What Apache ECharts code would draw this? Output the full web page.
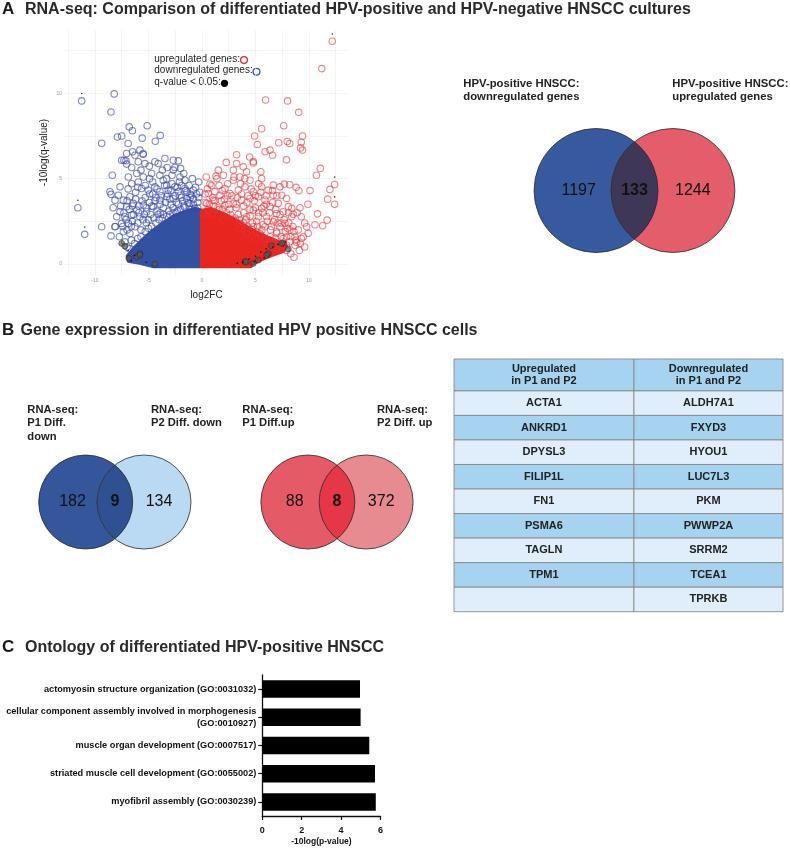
<!DOCTYPE html>
<html>
<head>
<meta charset="utf-8">
<title>RNA-seq of differentiated HPV-positive HNSCC</title>
<script src="https://cdn.jsdelivr.net/npm/echarts@6/dist/echarts.min.js"></script>
<style>
  html, body { margin: 0; padding: 0; background: #fff; }
  #chart { width: 790px; height: 848px; }
</style>
</head>
<body>
<div id="chart"></div>
<script>
// ---------- A: volcano plot (log2FC, -10log(q-value)) ----------
const downOutliers = [
  [-11.24, 9.55], [-8.2, 9.96], [-8.5, 8.9], [-6.8, 8.03], [-5.12, 8.1], [-6.5, 7.8], [-7.9, 7.44],
  [-7.5, 7.5], [-5.58, 7.37], [-3.9, 7.53], [-4.36, 7.19], [-9.37, 7.07], [-6.9, 7.06], [-5.8, 6.67],
  [-5.5, 6.45], [-6.48, 6.57], [-7.04, 6.47], [-6.26, 6.37], [-5.49, 6.43], [-7.5, 6.08], [-7.1, 6.04],
  [-3.46, 6.18], [-2.68, 6.08], [-2.21, 6.04], [-8.38, 5.2], [-8.6, 4.23], [-8.5, 4.08], [-11.6, 3.3],
  [-10.96, 1.74], [-9.37, 2.18], [-8.5, 1.65], [-8.3, 3.3], [-8.1, 2.2]
];
const downCloud = [
  [-7.29, 6.08], [-7.04, 5.85], [-6.57, 5.65], [-5.95, 5.99], [-5.33, 5.88], [-4.92, 5.73], [-4.4, 5.99],
  [-4.09, 5.88], [-3.25, 5.65], [-2.68, 5.5], [-2.53, 5.65], [-6.1, 5.3], [-5.48, 5.1], [-4.7, 5.3],
  [-3.93, 5.2], [-3.3, 5.0], [-2.06, 5.1], [-1.59, 4.91], [-6.88, 5.1], [-6.57, 4.7], [-5.95, 4.8],
  [-5.64, 4.42], [-5.02, 4.33], [-4.4, 4.52], [-3.93, 4.23], [-3.15, 4.33], [-2.53, 4.52], [-2.22, 4.23],
  [-1.59, 4.42], [-0.97, 4.03], [-0.82, 4.33], [-7.66, 4.52], [-7.82, 4.03], [-8.13, 3.74], [-7.35, 3.74],
  [-6.73, 3.94], [-7.04, 3.36], [-6.42, 3.55], [-6.1, 3.16], [-5.48, 3.45], [-5.17, 3.06], [-4.55, 3.36],
  [-7.66, 3.06], [-7.97, 2.77], [-7.2, 2.77], [-6.57, 2.87], [-5.8, 2.77], [-7.5, 2.38], [-6.88, 2.38],
  [-6.26, 2.18], [-7.35, 1.89], [-6.73, 1.79], [-8.13, 2.18], [-7.72, 1.6], [-7.2, 1.3], [-3.62, 4.91],
  [-3.3, 3.94], [-2.68, 3.84], [-2.06, 4.03], [-1.44, 3.84], [-3.93, 3.74], [-1.13, 3.55], [-0.66, 3.26],
  [-6.8, 0.9], [-6.3, 1.2], [-6.0, 1.5], [-5.7, 1.6], [-5.3, 1.9], [-5.0, 2.1], [-4.7, 2.2], [-4.3, 2.4],
  [-4.0, 2.6], [-3.7, 2.7], [-3.3, 2.8], [-3.0, 2.9], [-2.7, 3.0], [-2.3, 3.1], [-2.0, 3.2], [-1.6, 3.3],
  [-1.2, 3.4], [-0.8, 3.5], [-0.4, 3.6], [-6.5, 2.5], [-5.5, 2.6], [-4.8, 2.9], [-4.2, 3.1], [-3.6, 3.3],
  [-2.9, 3.5], [-2.4, 3.6], [-1.8, 3.7], [-0.3, 3.9], [-1.1, 3.9], [-5.9, 3.4], [-4.9, 3.6], [-4.3, 3.9],
  [-3.2, 4.1], [-2.9, 4.3], [-2.3, 4.5], [-1.9, 4.6], [-7.0, 1.0], [-6.6, 1.4], [-5.2, 2.4], [-3.9, 3.0],
  [-0.5, 4.1], [-1.4, 4.2], [-4.6, 4.1], [-5.3, 3.9], [-6.2, 4.2], [-6.9, 4.4], [-7.4, 2.2], [-7.0, 2.0],
  [-7.6, 3.4], [-7.3, 3.0], [-7.1, 2.6], [-6.8, 3.2], [-6.6, 2.2], [-6.4, 2.9], [-6.2, 3.8], [-6.0, 2.4],
  [-5.9, 3.0], [-5.7, 2.0], [-5.6, 3.7], [-5.4, 2.9], [-5.2, 3.3], [-5.0, 2.6], [-4.9, 4.1], [-4.7, 3.4],
  [-4.5, 2.7], [-4.4, 3.7], [-4.2, 4.4], [-4.1, 2.9], [-3.9, 3.5], [-3.8, 4.0], [-3.6, 2.9], [-3.5, 4.6],
  [-3.4, 3.6], [-3.1, 3.1], [-3.0, 3.8], [-2.8, 4.7], [-2.7, 3.3], [-2.5, 4.0], [-2.4, 3.0], [-2.2, 3.5],
  [-2.1, 4.8], [-1.9, 3.9], [-1.7, 3.4], [-1.5, 4.3], [-1.3, 3.6], [-1.2, 4.6], [-1.0, 3.2], [-0.8, 3.8],
  [-0.6, 4.5], [-0.4, 3.3], [-0.2, 4.2], [-0.3, 4.8], [-0.9, 5.0], [-1.7, 5.3], [-2.8, 5.2], [-3.7, 5.5],
  [-4.6, 4.8], [-5.3, 4.6], [-6.0, 4.5], [-6.5, 3.4], [-7.0, 3.7], [-5.7, 5.5], [-4.9, 5.0], [-3.3, 4.6],
  [-2.0, 5.6], [-1.1, 4.1]
];
const upOutliers = [
  [12.18, 13.04], [11.2, 11.44], [5.95, 9.6], [8.0, 9.55], [9.05, 8.88], [7.64, 8.1], [5.58, 7.92],
  [4.92, 7.5], [9.4, 7.5], [5.17, 7.0], [7.17, 7.1], [7.97, 7.17], [8.2, 7.06], [9.28, 7.13], [9.22, 6.8],
  [9.4, 6.67], [5.9, 6.57], [6.36, 6.67], [6.6, 6.37], [3.24, 6.4], [4.46, 6.27], [4.8, 6.0], [7.9, 6.1],
  [2.27, 5.95], [11.06, 5.6], [10.7, 5.2], [12.4, 4.66], [11.96, 4.37], [12.4, 3.5], [11.75, 3.8],
  [10.1, 4.3], [9.9, 3.5], [10.8, 2.94], [10.56, 2.3], [11.28, 2.24], [11.7, 2.57]
];
const upCloud = [
  [5.5, 5.4], [5.58, 5.0], [7.7, 4.68], [8.2, 4.64], [8.8, 4.49], [9.06, 4.29], [8.4, 3.26], [8.53, 2.92],
  [9.16, 3.3], [9.28, 2.77], [9.79, 2.18], [8.85, 1.27], [9.47, 1.6], [9.93, 1.8],
  [1.53, 5.5], [1.31, 5.15], [0.75, 4.68], [1.21, 4.23], [0.59, 4.13], [2.93, 5.5], [3.86, 5.69],
  [4.17, 5.4], [3.55, 5.1], [2.93, 4.91], [4.49, 4.91], [5.58, 4.52], [6.2, 4.33], [6.67, 4.62],
  [7.29, 4.52], [6.67, 4.03], [7.45, 4.03], [7.91, 3.84], [7.13, 3.55], [8.07, 3.36], [7.6, 3.06],
  [6.98, 2.96], [8.38, 2.77], [7.76, 2.38], [7.29, 2.18], [8.22, 1.99], [8.69, 1.6], [7.91, 1.6],
  [2.15, 4.42], [1.68, 4.03], [2.62, 4.13], [3.4, 4.33], [4.02, 4.52], [4.8, 4.23], [5.27, 3.94],
  [4.49, 3.84], [3.71, 3.74], [2.93, 3.55], [2.15, 3.45], [5.89, 3.74], [6.36, 3.36], [5.58, 3.26],
  [4.8, 3.16], [6.04, 2.77], [5.27, 2.77], [6.67, 2.47], [5.89, 2.18], [6.98, 1.89], [6.36, 1.6],
  [7.6, 1.21], [4.17, 2.77], [3.55, 2.38], [4.8, 2.18], [5.42, 1.79], [3.24, 5.88], [4.8, 5.92],
  [0.44, 3.55], [1.06, 3.74], [0.12, 2.96],
  [0.3, 3.6], [0.7, 3.5], [1.1, 3.4], [1.5, 3.3], [1.9, 3.2], [2.3, 3.0], [2.7, 2.9], [3.1, 2.7],
  [3.5, 2.6], [3.9, 2.4], [4.3, 2.2], [4.7, 2.0], [5.1, 1.9], [5.5, 1.7], [5.9, 1.5], [6.3, 1.4],
  [6.7, 1.2], [7.1, 1.1], [7.5, 0.9], [7.9, 0.8], [8.3, 0.6], [8.6, 0.4], [1.0, 3.9], [1.8, 3.7],
  [2.5, 3.5], [3.2, 3.3], [3.9, 3.0], [4.5, 2.8], [5.1, 2.5], [5.7, 2.3], [6.4, 2.0], [7.0, 1.8],
  [7.6, 1.5], [8.2, 1.3], [8.7, 1.1], [9.1, 0.8], [0.5, 4.4], [1.6, 4.6], [2.4, 4.0], [3.3, 3.9],
  [4.2, 3.6], [5.0, 3.3], [5.7, 3.0], [6.8, 2.6], [7.4, 2.4], [8.0, 2.1], [8.6, 1.9], [9.2, 1.2],
  [9.6, 1.0], [3.6, 4.7], [4.6, 4.4], [5.3, 4.7], [6.0, 4.0], [6.6, 3.6],
  [0.3, 4.1], [0.6, 3.2], [0.9, 4.6], [1.2, 3.7], [1.4, 5.0], [1.6, 3.2], [1.9, 4.3], [2.1, 3.8],
  [2.4, 4.7], [2.6, 3.2], [2.8, 4.0], [3.0, 5.1], [3.2, 3.5], [3.4, 2.9], [3.7, 4.1], [3.9, 3.4],
  [4.1, 2.6], [4.3, 4.0], [4.5, 3.2], [4.7, 2.4], [4.9, 3.7], [5.2, 2.2], [5.3, 3.0], [5.5, 4.2],
  [5.6, 2.0], [5.8, 3.4], [6.1, 2.5], [6.3, 3.0], [6.5, 2.2], [6.6, 4.3], [6.9, 3.2], [7.1, 2.4],
  [7.3, 2.9], [7.4, 1.6], [7.7, 2.6], [7.8, 1.9], [8.1, 2.4], [8.3, 1.6], [8.5, 2.2], [8.8, 1.4],
  [9.0, 2.0], [9.3, 1.5], [9.6, 2.4], [8.9, 3.0], [8.1, 3.0], [7.0, 4.0], [6.0, 3.5], [5.0, 4.0],
  [4.0, 5.0], [2.0, 5.2], [0.4, 5.1], [1.0, 2.9], [2.0, 2.6], [3.5, 2.1], [6.2, 1.1], [6.9, 1.5],
  [7.9, 1.1], [5.0, 1.5], [4.2, 1.8]
];
// q-value < 0.05 (grey filled)
const sigGenes = [
  [-7.5, 1.21], [-6.82, 0.33], [-6.1, 0.43], [-5.8, 0.62], [-7.2, 1.05], [-4.4, 0.0], [-5.8, 0.53],
  [8.07, 0.88], [7.6, 1.21], [6.2, 0.62], [4.8, 0.04], [4.02, 0.14], [5.27, 0.23], [6.5, 1.07],
  [7.45, 1.21], [6.05, 0.53], [4.14, 0.13]
];
const sigDots = [
  [-6.6, 0.2], [-6.3, 0.5], [-5.2, 0.1], [-6.9, 0.8], [3.3, 0.05], [3.8, 0.1], [4.4, 0.3], [5.0, 0.45],
  [5.5, 0.7], [6.0, 0.9], [6.6, 1.0], [7.1, 1.15], [7.8, 1.3], [4.9, 0.15], [5.8, 0.35]
];
// small marks above the labelled genes
const labelledGenes = [[-11.24, 9.98], [-11.6, 3.73], [-10.96, 2.17], [12.4, 5.09], [12.4, 3.93], [12.18, 13.47]];
// outline of the solid (over-plotted) region near the origin
const downCore = [
  [-0.05, -0.1], [-0.05, 3.1], [-0.6, 3.2], [-1.5, 3.05], [-2.5, 2.8], [-3.5, 2.4], [-4.5, 1.95],
  [-5.5, 1.4], [-6.3, 0.9], [-6.9, 0.45], [-6.8, 0.2], [-5.8, 0.1], [-4.5, -0.1]
];
const upCore = [
  [0.05, -0.1], [0.05, 3.1], [0.8, 3.2], [2, 2.9], [3, 2.6], [4, 2.2], [5, 1.85], [6, 1.55], [7, 1.3],
  [7.8, 1.05], [7.6, 0.8], [6.5, 0.55], [5.5, 0.3], [4.7, 0.05], [4.5, -0.1]
];
const volcanoXLabels = [-10, -5, 0, 5, 10];
const volcanoYLabels = [0, 5, 10];
const volcanoXGrid = [-12.5, -10, -7.5, -5, -2.5, 0, 2.5, 5, 7.5, 10, 12.5];
const volcanoYGrid = [0, 2.5, 5, 7.5, 10, 12.5];

// ---------- A: Venn ----------
const vennACounts = [1197, 133, 1244];
const vennALabels = ['HPV-positive HNSCC:\ndownregulated genes', 'HPV-positive HNSCC:\nupregulated genes'];

// ---------- B: Venns + table ----------
const vennDownCounts = [182, 9, 134];
const vennDownLabels = ['RNA-seq:\nP1 Diff.\ndown', 'RNA-seq:\nP2 Diff. down'];
const vennUpCounts = [88, 8, 372];
const vennUpLabels = ['RNA-seq:\nP1 Diff.up', 'RNA-seq:\nP2 Diff. up'];

const tableHeaders = ['Upregulated\nin P1 and P2', 'Downregulated\nin P1 and P2'];
const upGenes = ['ACTA1', 'ANKRD1', 'DPYSL3', 'FILIP1L', 'FN1', 'PSMA6', 'TAGLN', 'TPM1', ''];
const downGenes = ['ALDH7A1', 'FXYD3', 'HYOU1', 'LUC7L3', 'PKM', 'PWWP2A', 'SRRM2', 'TCEA1', 'TPRKB'];

// ---------- C: GO terms ----------
const goTerms = [
  'actomyosin structure organization (GO:0031032)',
  'cellular component assembly involved in morphogenesis\n(GO:0010927)',
  'muscle organ development (GO:0007517)',
  'striated muscle cell development (GO:0055002)',
  'myofibril assembly (GO:0030239)'
];
const goScores = [4.96, 4.99, 5.43, 5.72, 5.76];

const FONT = '"Liberation Sans", Arial, Helvetica, sans-serif';

// venn drawn in a grid whose x runs -2..2 and y -1..1 (one unit = circle radius)
function vennRender (colors) {
  return function (params, api) {
    const half = 0.62;
    const c1 = api.coord([-half, 0]);
    const c2 = api.coord([half, 0]);
    const r = api.size([1, 0])[0];
    const cy = c1[1];
    const mx = (c1[0] + c2[0]) / 2;
    const h = Math.sqrt(r * r - Math.pow((c2[0] - c1[0]) / 2, 2));
    const lens = 'M' + mx + ' ' + (cy - h) + ' A' + r + ' ' + r + ' 0 0 1 ' + mx + ' ' + (cy + h) +
      ' A' + r + ' ' + r + ' 0 0 1 ' + mx + ' ' + (cy - h) + ' Z';
    const lx = api.coord([-0.9, 0])[0];
    const rx = api.coord([0.94, 0])[0];
    const num = (x, v, bold) => ({
      type: 'text', x: x, y: cy,
      style: { text: String(v), fill: '#111', font: (bold ? 'bold ' : '') + '16px ' + FONT, align: 'center', verticalAlign: 'middle' }
    });
    const ring = (c) => ({ type: 'circle', shape: { cx: c[0], cy: cy, r: r }, style: { fill: 'none', stroke: '#2b2b2b', lineWidth: 0.8 } });
    return {
      type: 'group',
      children: [
        { type: 'circle', shape: { cx: c1[0], cy: cy, r: r }, style: { fill: colors[0] } },
        { type: 'circle', shape: { cx: c2[0], cy: cy, r: r }, style: { fill: colors[1] } },
        { type: 'path', shape: { pathData: lens }, style: { fill: colors[2] } },
        ring(c1), ring(c2),
        num(lx, api.value(0), false),
        num(mx, api.value(1), true),
        num(rx, api.value(2), false)
      ]
    };
  };
}

function polygonRender (points, fill) {
  return function (params, api) {
    return {
      type: 'polygon',
      shape: { points: points.map(p => api.coord(p)) },
      style: { fill: fill, stroke: fill, lineWidth: 5, lineJoin: 'round' }
    };
  };
}

// table cells: [column, row (-1 = header), text]
const tableCells = [];
tableHeaders.forEach((t, c) => tableCells.push([c, -1, t]));
upGenes.forEach((g, i) => tableCells.push([0, i, g]));
downGenes.forEach((g, i) => tableCells.push([1, i, g]));
const HEADER_H = 1.3;
const tableColEdges = [[0, 0.547], [0.547, 1]];

const hidden = { show: false };
const chart = echarts.init(document.getElementById('chart'));

const textLines = (x, y, text, size, lh, weight) => ({
  type: 'text', left: x, top: y,
  style: { text: text, font: (weight || 'bold') + ' ' + size + 'px ' + FONT, fill: '#222', lineHeight: lh }
});

chart.setOption({
  backgroundColor: '#fff',
  animation: false,
  grid: [
    { left: 65, top: 30, width: 283, height: 245 },        // 0 volcano
    { left: 510.5, top: 128.5, width: 248, height: 124 },  // 1 venn A
    { left: 20.85, top: 455, width: 188, height: 94 },     // 2 venn down
    { left: 243, top: 455, width: 188, height: 94 },       // 3 venn up
    { left: 454, top: 359, width: 329, height: 252.7 },    // 4 table
    { left: 262.3, top: 675, width: 118.2, height: 141 }   // 5 GO bars
  ],
  xAxis: [
    {
      gridIndex: 0, type: 'value', min: -12.8, max: 13.65,
      name: 'log2FC', nameLocation: 'middle', nameGap: 15,
      nameTextStyle: { fontFamily: FONT, fontSize: 10, color: '#222' },
      axisLine: { show: false },
      axisTick: { show: false, customValues: volcanoXGrid },
      axisLabel: { customValues: volcanoXLabels, fontSize: 5, color: '#999', margin: 3, fontFamily: FONT },
      splitLine: { lineStyle: { color: '#ececec', width: 0.6 } }
    },
    Object.assign({ gridIndex: 1, type: 'value', min: -2, max: 2 }, hidden),
    Object.assign({ gridIndex: 2, type: 'value', min: -2, max: 2 }, hidden),
    Object.assign({ gridIndex: 3, type: 'value', min: -2, max: 2 }, hidden),
    Object.assign({ gridIndex: 4, type: 'value', min: 0, max: 1 }, hidden),
    {
      gridIndex: 5, type: 'value', min: 0, max: 6, interval: 2,
      name: '-10log(p-value)', nameLocation: 'middle', nameGap: 21,
      nameTextStyle: { fontFamily: FONT, fontSize: 8.5, fontWeight: 'bold', color: '#111' },
      axisLine: { show: true, lineStyle: { color: '#111', width: 1.3 } },
      axisTick: { show: true, length: 4, lineStyle: { color: '#111', width: 1.2 } },
      axisLabel: { fontFamily: FONT, fontSize: 9, fontWeight: 'bold', color: '#111', margin: 10 },
      splitLine: { show: false }
    }
  ],
  yAxis: [
    {
      gridIndex: 0, type: 'value', min: -0.64, max: 13.7,
      name: '-10log(q-value)', nameLocation: 'middle', nameGap: 16, nameRotate: 90,
      nameTextStyle: { fontFamily: FONT, fontSize: 10, color: '#222' },
      axisLine: { show: false },
      axisTick: { show: false, customValues: volcanoYGrid },
      axisLabel: { customValues: volcanoYLabels, fontSize: 5, color: '#999', margin: 3, fontFamily: FONT },
      splitLine: { lineStyle: { color: '#ececec', width: 0.6 } }
    },
    Object.assign({ gridIndex: 1, type: 'value', min: -1, max: 1 }, hidden),
    Object.assign({ gridIndex: 2, type: 'value', min: -1, max: 1 }, hidden),
    Object.assign({ gridIndex: 3, type: 'value', min: -1, max: 1 }, hidden),
    Object.assign({ gridIndex: 4, type: 'value', min: 0, max: HEADER_H + upGenes.length, inverse: true }, hidden),
    {
      gridIndex: 5, type: 'category', data: goTerms, inverse: true,
      axisLine: { show: true, lineStyle: { color: '#111', width: 1.3 } },
      axisTick: { show: true, length: 4, alignWithLabel: true, lineStyle: { color: '#111', width: 1.2 } },
      axisLabel: { fontFamily: FONT, fontSize: 9.2, fontWeight: 'bold', color: '#111', margin: 6, lineHeight: 11.5, align: 'right' }
    }
  ],
  series: [
    // volcano
    { type: 'custom', xAxisIndex: 0, yAxisIndex: 0, data: [[0, 0]], z: 1, silent: true, renderItem: polygonRender(downCore, '#3251a1') },
    { type: 'custom', xAxisIndex: 0, yAxisIndex: 0, data: [[0, 0]], z: 1, silent: true, renderItem: polygonRender(upCore, '#e8261f') },
    {
      type: 'scatter', xAxisIndex: 0, yAxisIndex: 0, z: 2, silent: true,
      data: downCloud.concat(downOutliers), symbolSize: 6.5,
      itemStyle: { color: 'rgba(255,255,255,0)', borderColor: 'rgba(55,70,170,0.8)', borderWidth: 1.1 }
    },
    {
      type: 'scatter', xAxisIndex: 0, yAxisIndex: 0, z: 2, silent: true,
      data: upCloud.concat(upOutliers), symbolSize: 6.5,
      itemStyle: { color: 'rgba(255,255,255,0)', borderColor: 'rgba(230,50,55,0.75)', borderWidth: 1.1 }
    },
    {
      type: 'scatter', xAxisIndex: 0, yAxisIndex: 0, z: 3, silent: true,
      data: sigGenes, symbolSize: 6,
      itemStyle: { color: 'rgba(85,85,85,0.8)', borderColor: 'rgba(40,40,40,0.8)', borderWidth: 0.8 }
    },
    {
      type: 'scatter', xAxisIndex: 0, yAxisIndex: 0, z: 3, silent: true,
      data: sigDots.concat(labelledGenes), symbolSize: 1.6,
      itemStyle: { color: '#000' }
    },
    // venns
    { type: 'custom', xAxisIndex: 1, yAxisIndex: 1, silent: true, data: [vennACounts], renderItem: vennRender(['#375a9e', '#e35d6a', '#3f3758']) },
    { type: 'custom', xAxisIndex: 2, yAxisIndex: 2, silent: true, data: [vennDownCounts], renderItem: vennRender(['#34569b', '#b9daf2', '#2f5192']) },
    { type: 'custom', xAxisIndex: 3, yAxisIndex: 3, silent: true, data: [vennUpCounts], renderItem: vennRender(['#e45a67', '#e88b90', '#e63748']) },
    // table
    {
      type: 'custom', xAxisIndex: 4, yAxisIndex: 4, silent: true,
      data: tableCells.map(c => [c[0], c[1]]),
      renderItem: function (params, api) {
        const cell = tableCells[params.dataIndex];
        const col = cell[0];
        const row = cell[1];
        const xs = tableColEdges[col];
        const y0 = row < 0 ? 0 : HEADER_H + row;
        const y1 = row < 0 ? HEADER_H : HEADER_H + row + 1;
        const p0 = api.coord([xs[0], y0]);
        const p1 = api.coord([xs[1], y1]);
        const fill = (row < 0 || row % 2 === 1) ? '#a6d3ef' : '#dfeefa';
        return {
          type: 'group',
          children: [
            { type: 'rect', shape: { x: p0[0], y: p0[1], width: p1[0] - p0[0], height: p1[1] - p0[1] }, style: { fill: fill, stroke: '#8a8a8a', lineWidth: 0.9 } },
            {
              type: 'text', x: (p0[0] + p1[0]) / 2, y: (p0[1] + p1[1]) / 2,
              style: { text: cell[2], fill: '#222', font: 'bold 11px ' + FONT, align: 'center', verticalAlign: 'middle', lineHeight: 12.4 }
            }
          ]
        };
      }
    },
    // GO bars
    {
      type: 'bar', xAxisIndex: 5, yAxisIndex: 5, data: goScores, barWidth: 17.5, silent: true,
      itemStyle: { color: '#000' }
    }
  ],
  graphic: [
    { type: 'text', left: 2, top: 1, style: { text: 'A', font: 'bold 17px ' + FONT, fill: '#1a1a1a' } },
    { type: 'text', left: 25, top: 1.5, style: { text: 'RNA-seq: Comparison of differentiated HPV-positive and HPV-negative HNSCC cultures', font: 'bold 16px ' + FONT, fill: '#2a2a2a' } },
    { type: 'text', left: 2, top: 322, style: { text: 'B', font: 'bold 17px ' + FONT, fill: '#1a1a1a' } },
    { type: 'text', left: 20.5, top: 322.5, style: { text: 'Gene expression in differentiated HPV positive HNSCC cells', font: 'bold 16px ' + FONT, fill: '#2a2a2a' } },
    { type: 'text', left: 2, top: 639, style: { text: 'C', font: 'bold 17px ' + FONT, fill: '#1a1a1a' } },
    { type: 'text', left: 25, top: 639.5, style: { text: 'Ontology of differentiated HPV-positive HNSCC', font: 'bold 16px ' + FONT, fill: '#2a2a2a' } },

    // volcano legend
    { type: 'text', left: 154.3, top: 54, style: { text: 'upregulated genes:', font: '10px ' + FONT, fill: '#222' } },
    { type: 'text', left: 154.3, top: 65.7, style: { text: 'downregulated genes:', font: '10px ' + FONT, fill: '#222' } },
    { type: 'text', left: 154.3, top: 77.3, style: { text: 'q-value < 0.05:', font: '10px ' + FONT, fill: '#222' } },
    { type: 'circle', shape: { cx: 244, cy: 60, r: 3.4 }, style: { fill: 'none', stroke: '#e8262a', lineWidth: 1.3 } },
    { type: 'circle', shape: { cx: 256.5, cy: 71.7, r: 3.4 }, style: { fill: 'none', stroke: '#3b4fae', lineWidth: 1.3 } },
    { type: 'circle', shape: { cx: 224.5, cy: 83.3, r: 3.6 }, style: { fill: '#000' } },

    // venn labels
    textLines(463.3, 77.7, vennALabels[0], 11.3, 12.7),
    textLines(672.3, 77.7, vennALabels[1], 11.3, 12.7),
    textLines(27.3, 403.4, vennDownLabels[0], 11.2, 13.3),
    textLines(151, 403.4, vennDownLabels[1], 11.2, 13.3),
    textLines(242.3, 403.4, vennUpLabels[0], 11.2, 13.3),
    textLines(377, 403.4, vennUpLabels[1], 11.2, 13.3)
  ]
});
</script>
</body>
</html>
